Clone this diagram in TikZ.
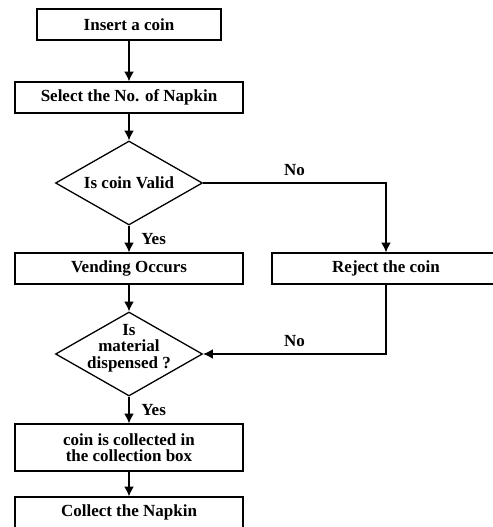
\documentclass[tikz,border=0pt]{standalone}
\usepackage{fontspec}
\setmainfont{Liberation Serif}
\usetikzlibrary{arrows.meta,shapes.geometric}
\tikzset{
  block/.style = {
    draw,
    line width=1.1pt,
    minimum width=6.84cm,
    minimum height=0.93cm,
    align=center
  },
  decision/.style = {
    draw,
    diamond,
    line width=1.1pt,
    inner sep=0pt,
    minimum width=4.41cm,
    minimum height=2.52cm
  },
  connect/.style = {
    line width=1.1pt,
    -{Latex[length=2.9mm,width=2.9mm]}
  },
  answer/.style = {
    inner sep=0pt
  },
}

\begin{document}
\begin{tikzpicture}[font={\bfseries\fontsize{14.5}{14}\selectfont}]

  \useasboundingbox (0,0) rectangle (14.79,15.81);

  % left column
  \node[block, minimum width=5.52cm] (insert) at (3.87,15.075) {Insert a coin};
  \node[block] (select) at (3.87,12.885) {Select the No. of Napkin};
  \node[decision, label={[align=center]center:Is coin Valid}] (valid) at (3.87,10.32) {};
  \node[block] (vend) at (3.87,7.755) {Vending Occurs};
  \node[decision, label={[align=center, yshift=0.18cm]center:Is\\material\\dispensed ?}] (material) at (3.87,5.19) {};
  \node[block, minimum height=1.41cm] (collected) at (3.87,2.385) {coin is collected in\\the collection box};
  \node[block] (napkin) at (3.87,0.435) {Collect the Napkin};

  % right column
  \node[block] (reject) at (11.58,7.755) {Reject the coin};

  \draw[connect] (insert) -- (select);
  \draw[connect] (select) -- (valid);
  \draw[connect] (valid) -- node[answer, right=0.35cm] (yes1) {Yes} (vend);
  \draw[connect] (valid.east) -| node[answer, pos=0.25, above=0.2cm] (no1) {No} (reject.north);
  \draw[connect] (vend) -- (material);
  \draw[connect] (reject.south) |- node[answer, pos=0.75, above=0.2cm] (no2) {No} (material.east);
  \draw[connect] (material) -- node[answer, right=0.35cm] (yes2) {Yes} (collected);
  \draw[connect] (collected) -- (napkin);

\end{tikzpicture}
\end{document}
